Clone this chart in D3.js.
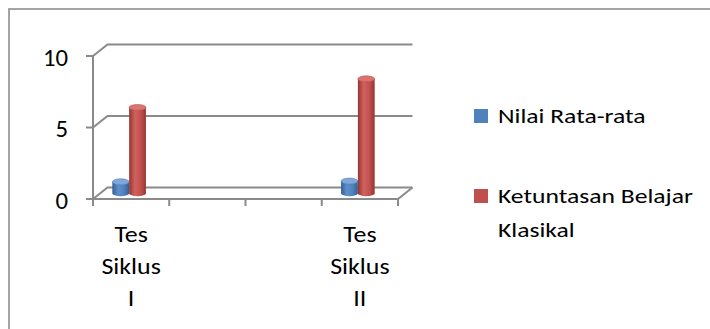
<body style="margin:0;background:#fff">
<script src="https://d3js.org/d3.v7.min.js"></script>
<script>
var categories = ["Tes Siklus I", "", "", "Tes Siklus II"];
var seriesNames = ["Nilai Rata-rata", "Ketuntasan Belajar Klasikal"];
var nilaiRata = [0.8, null, null, 0.85];
var ketuntasan = [6, null, null, 8];
var yTicks = [0, 5, 10];

var W = 710, H = 329;
var font = "Carlito, Calibri, Lato, sans-serif";
var grid = "#8a8a8a";
// depth of the 3d box
var dx = 14.5, dy = -11.5;

var svg = d3.select("body").append("svg").attr("width", W).attr("height", H)
  .style("display", "block");

svg.append("rect").attr("x", 9).attr("y", 9).attr("width", 720).attr("height", 340)
  .attr("fill", "#fff").attr("stroke", "#868686").attr("stroke-width", 1.5);

var x = d3.scaleBand().domain(d3.range(categories.length)).range([93, 398]);
var y = d3.scaleLinear().domain([0, 10]).range([199, 56]);

// the picture is stretched sideways, so text gets a horizontal scale
function stretchedText(sel, tx, ty, sx, size, anchor, txt) {
  return sel.append("text")
    .attr("transform", "translate(" + tx + "," + ty + ") scale(" + sx + ",1)")
    .attr("text-anchor", anchor).attr("font-family", font).attr("font-size", size)
    .attr("font-weight", 300).attr("fill", "#000").text(txt);
}

var g = svg.append("g");

// back wall gridlines + left side diagonals
yTicks.forEach(function (t) {
  var yy = y(t);
  g.append("path")
    .attr("d", "M" + x.range()[0] + "," + yy + "L" + (x.range()[0] + dx) + "," + (yy + dy) +
      "L" + (x.range()[1] + dx) + "," + (yy + dy))
    .attr("fill", "none").attr("stroke", grid).attr("stroke-width", 2);
});
// floor
g.append("path")
  .attr("d", "M" + x.range()[0] + "," + y(0) + "L" + x.range()[1] + "," + y(0) +
    "L" + (x.range()[1] + dx) + "," + (y(0) + dy))
  .attr("fill", "none").attr("stroke", grid).attr("stroke-width", 2);
// left axis line
g.append("line").attr("x1", 93).attr("x2", 93).attr("y1", y(10)).attr("y2", y(0) + 6)
  .attr("stroke", grid).attr("stroke-width", 2);
// y ticks
g.selectAll(".yt").data(yTicks).enter().append("line")
  .attr("x1", 86).attr("x2", 93).attr("y1", function (d) { return y(d); })
  .attr("y2", function (d) { return y(d); })
  .attr("stroke", grid).attr("stroke-width", 2);
yTicks.forEach(function (t) {
  stretchedText(g, 68, y(t) + 9.5, 1.03, 24, "end", t);
});
// x ticks
var xt = x.domain().map(function (d) { return x(d); }).concat([x.range()[1]]);
g.selectAll(".xt").data(xt).enter().append("line")
  .attr("x1", function (d) { return d; }).attr("x2", function (d) { return d; })
  .attr("y1", y(0)).attr("y2", y(0) + 7)
  .attr("stroke", grid).attr("stroke-width", 2);

// category labels
categories.forEach(function (c, i) {
  if (!c) return;
  var words = c.split(" ");
  var cx = x(i) + x.bandwidth() / 2;
  words.forEach(function (w, j) {
    stretchedText(g, cx, 242 + j * 32, 1.18, 22, "middle", w);
  });
});

// cylinders
var defs = svg.append("defs");
var palettes = [
  { id: "gb", edge: "#345f93", mid: "#5e8fcc", top: "#7fa7d9", base: "#4f81bd" },
  { id: "gr", edge: "#953532", mid: "#d0625e", top: "#d97470", base: "#c0504d" }
];
palettes.forEach(function (p) {
  var lg = defs.append("linearGradient").attr("id", p.id).attr("x1", 0).attr("x2", 1).attr("y1", 0).attr("y2", 0);
  lg.append("stop").attr("offset", "0%").attr("stop-color", p.edge);
  lg.append("stop").attr("offset", "35%").attr("stop-color", p.mid);
  lg.append("stop").attr("offset", "70%").attr("stop-color", p.base);
  lg.append("stop").attr("offset", "100%").attr("stop-color", p.edge);
});

var series = [nilaiRata, ketuntasan];
var bw = 16.8, ry = 3;
series.forEach(function (s, k) {
  var p = palettes[k];
  s.forEach(function (v, i) {
    if (v == null) return;
    var cx0 = x(i) + x.bandwidth() / 2 - 2 - bw + k * bw;
    var b = y(0) + dy / 2;
    var t = y(v) + dy / 2;
    var rx = bw / 2;
    g.append("path")
      .attr("d", "M" + cx0 + "," + t + "L" + cx0 + "," + b +
        "A" + rx + "," + ry + " 0 0 0 " + (cx0 + bw) + "," + b +
        "L" + (cx0 + bw) + "," + t + "Z")
      .attr("fill", "url(#" + p.id + ")");
    g.append("ellipse").attr("cx", cx0 + rx).attr("cy", t).attr("rx", rx).attr("ry", ry)
      .attr("fill", p.top).attr("stroke", p.base).attr("stroke-width", 0.6);
  });
});

// legend
var lgd = svg.append("g");
var legendY = [116, 196];
var legendLines = [["Nilai Rata-rata"], ["Ketuntasan Belajar", "Klasikal"]];
seriesNames.forEach(function (n, k) {
  lgd.append("rect").attr("x", 474).attr("y", legendY[k] - 7).attr("width", 14).attr("height", 14)
    .attr("fill", palettes[k].base);
  legendLines[k].forEach(function (l, j) {
    stretchedText(lgd, 498, legendY[k] + 7 + j * 34, 1.22, 21, "start", l);
  });
});
</script>
</body>
